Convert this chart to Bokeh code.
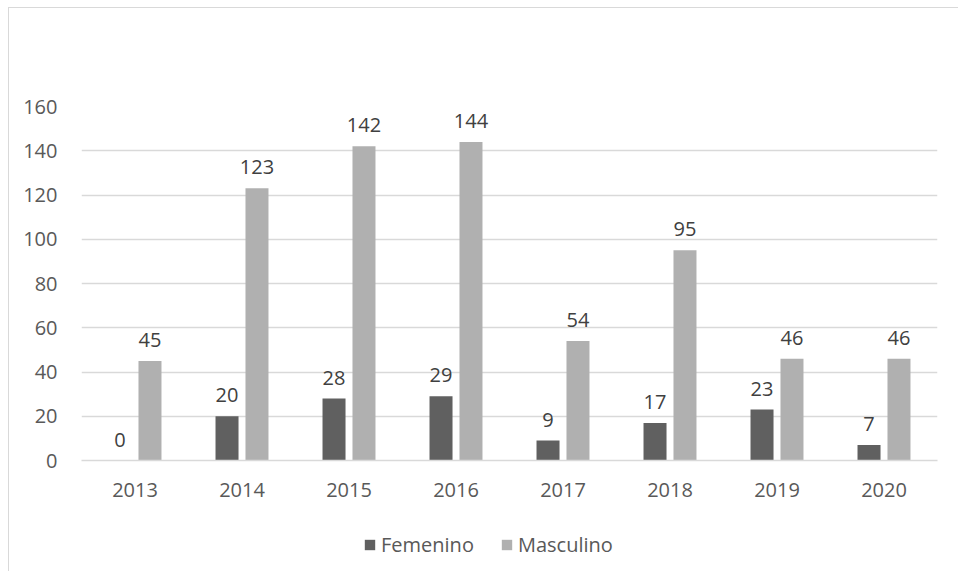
from bokeh.plotting import figure
from bokeh.layouts import column
from bokeh.models import ColumnDataSource, Legend, LegendItem, FixedTicker, Range1d
from bokeh.transform import dodge
from bokeh.core.properties import value
from bokeh.embed import file_html
from bokeh.resources import INLINE

years = ["2013", "2014", "2015", "2016", "2017", "2018", "2019", "2020"]
femenino = [0, 20, 28, 29, 9, 17, 23, 7]
masculino = [45, 123, 142, 144, 54, 95, 46, 46]
y_ticks = [0, 20, 40, 60, 80, 100, 120, 140, 160]
series_names = ["Femenino", "Masculino"]

FONT = "Open Sans"
TXT = "#595959"
DARK = "#606060"
LIGHT = "#b0b0b0"
GRID = "#d9d9d9"
FS = "20px"

src = ColumnDataSource(dict(years=years, fem=femenino, masc=masculino,
                            fem_lbl=[str(v) for v in femenino],
                            masc_lbl=[str(v) for v in masculino]))

p = figure(x_range=years, width=950, height=513, output_backend="svg",
           toolbar_location=None, min_border_left=72, min_border_right=22,
           min_border_top=98, min_border_bottom=61)
p.y_range = Range1d(0, 160)
p.outline_line_color = None

p.vbar(x=dodge("years", -0.14, range=p.x_range), top="fem", width=0.215,
       source=src, fill_color=DARK, line_color=None)
p.vbar(x=dodge("years", 0.14, range=p.x_range), top="masc", width=0.215,
       source=src, fill_color=LIGHT, line_color=None)

p.text(x=dodge("years", -0.14, range=p.x_range), y="fem", text="fem_lbl", source=src,
       text_align="center", text_baseline="bottom", y_offset=-14,
       text_font=value(FONT), text_font_size=FS, text_color="#404040")
p.text(x=dodge("years", 0.14, range=p.x_range), y="masc", text="masc_lbl", source=src,
       text_align="center", text_baseline="bottom", y_offset=-14,
       text_font=value(FONT), text_font_size=FS, text_color="#404040")

p.yaxis.ticker = FixedTicker(ticks=y_ticks)
p.yaxis.axis_line_color = None
p.yaxis.major_tick_line_color = None
p.yaxis.minor_tick_line_color = None
p.yaxis.major_label_standoff = 18
p.xaxis.axis_line_color = GRID
p.xaxis.axis_line_width = 1.5
p.xaxis.major_tick_line_color = None
p.xaxis.minor_tick_line_color = None
p.xaxis.major_label_standoff = 16
for ax in (p.xaxis, p.yaxis):
    ax.major_label_text_font = FONT
    ax.major_label_text_font_size = FS
    ax.major_label_text_color = TXT

p.xgrid.grid_line_color = None
p.ygrid.grid_line_color = GRID
p.ygrid.grid_line_width = 1.5

# legend strip (swatch renderers sit outside the visible range)
p2 = figure(width=950, height=50, output_backend="svg", toolbar_location=None,
            x_axis_location=None, y_axis_location=None, min_border=0,
            x_range=Range1d(0, 1), y_range=Range1d(0, 1))
p2.outline_line_color = None
p2.grid.grid_line_color = None
lr1 = p2.vbar(x=[-10], top=[0], width=0.2, fill_color=DARK, line_color=None)
lr2 = p2.vbar(x=[-10], top=[0], width=0.2, fill_color=LIGHT, line_color=None)
legend = Legend(items=[LegendItem(label=series_names[0], renderers=[lr1]),
                       LegendItem(label=series_names[1], renderers=[lr2])],
                orientation="horizontal", location=(282, 13),
                label_text_font=FONT, label_text_font_size=FS, label_text_color=TXT,
                glyph_width=13, glyph_height=13, spacing=26, label_standoff=5,
                border_line_color=None, background_fill_alpha=0, padding=0, margin=0)
p2.add_layout(legend, "center")

layout = column(p, p2, spacing=0)
layout.styles = {"border-left": "1px solid #d9d9d9", "border-top": "1px solid #d9d9d9",
                 "margin-left": "8px", "margin-top": "7px"}

open("out.html", "w").write(file_html(layout, INLINE))
